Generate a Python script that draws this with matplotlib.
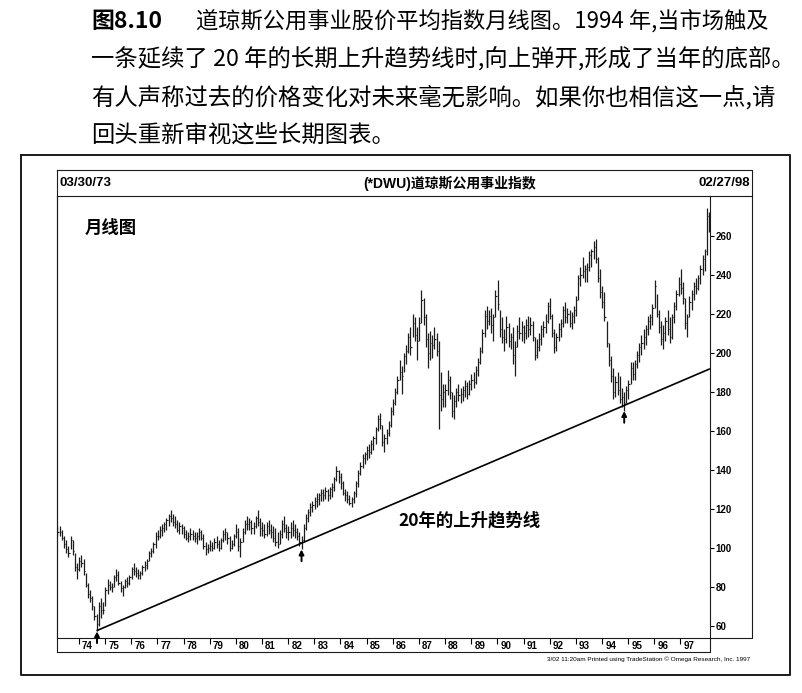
import numpy as np
import pandas as pd
import matplotlib
matplotlib.use("Agg")
import matplotlib.pyplot as plt
from matplotlib.lines import Line2D

plt.rcParams['font.family'] = ['Noto Sans CJK SC', 'DejaVu Sans']

# monthly bars, 03/1973 .. 02/1998
start_month = "1973-03"
highs = [
    111, 111, 109, 106, 104, 101, 106, 104, 97, 92,                 # 73
    95, 96, 94, 87, 82, 78, 75, 70, 66, 72, 74, 72,                  # 74
    80, 84, 83, 82, 86, 89, 88, 83, 81, 84, 85, 86,                  # 75
    90, 92, 90, 89, 88, 91, 93, 94, 98, 100, 103, 108,               # 76
    109, 111, 112, 113, 115, 117, 119, 117, 116, 114, 113, 112,      # 77
    111, 109, 108, 110, 109, 108, 108, 110, 109, 107, 103, 102,      # 78
    104, 103, 105, 106, 104, 105, 109, 110, 108, 106, 104, 107,      # 79
    112, 110, 105, 110, 114, 116, 115, 114, 113, 116, 119, 115,      # 80
    113, 112, 113, 114, 112, 111, 110, 108, 109, 114, 116, 112,      # 81
    111, 113, 114, 112, 110, 108, 106, 112, 117, 120, 123, 124,      # 82
    126, 128, 128, 130, 130, 131, 130, 131, 133, 136, 142, 140,      # 83
    138, 134, 130, 129, 127, 126, 129, 134, 140, 144, 148, 149,      # 84
    152, 153, 155, 157, 162, 168, 169, 163, 158, 161, 165, 172,      # 85
    176, 182, 188, 196, 193, 200, 204, 210, 213, 220, 218, 213,      # 86
    218, 232, 228, 220, 210, 211, 209, 213, 210, 206, 190, 184,      # 87
    184, 191, 188, 180, 178, 182, 184, 182, 183, 186, 185, 186,      # 88
    189, 190, 193, 197, 203, 212, 222, 224, 222, 223, 220, 232,      # 89
    237, 222, 218, 212, 219, 215, 210, 213, 206, 214, 218, 216,      # 90
    214, 217, 219, 218, 216, 208, 207, 210, 214, 216, 220, 226,      # 91
    228, 220, 212, 210, 215, 217, 224, 226, 223, 222, 221, 224,      # 92
    229, 240, 244, 249, 245, 246, 252, 253, 257, 258, 249, 243,      # 93
    234, 231, 216, 205, 198, 192, 188, 190, 188, 182, 180, 183,      # 94
    186, 195, 195, 196, 201, 205, 209, 212, 214, 219, 220, 225,      # 95
    237, 230, 222, 216, 214, 218, 222, 218, 220, 226, 232, 239,      # 96
    243, 236, 228, 220, 229, 232, 236, 238, 240, 245, 250, 253,      # 97
    274, 272,                                                        # 98
]
lows = [
    106, 106, 104, 100, 97, 95, 99, 96, 88, 84,
    88, 90, 86, 80, 74, 72, 68, 63, 57, 60, 64, 66,
    70, 76, 78, 77, 80, 83, 81, 77, 75, 79, 80, 81,
    84, 86, 85, 84, 84, 86, 88, 89, 93, 95, 97, 100,
    104, 105, 106, 108, 109, 111, 113, 111, 110, 108, 107, 107,
    105, 104, 103, 104, 104, 103, 102, 104, 104, 99, 96, 97,
    98, 98, 99, 100, 98, 99, 103, 104, 102, 98, 99, 101,
    105, 98, 95, 103, 107, 109, 109, 107, 107, 110, 111, 106,
    106, 105, 106, 107, 105, 103, 101, 100, 102, 105, 108, 105,
    104, 105, 106, 105, 104, 101, 99, 103, 109, 113, 116, 118,
    120, 121, 122, 124, 124, 125, 124, 125, 126, 129, 134, 133,
    130, 127, 124, 123, 122, 121, 123, 126, 131, 137, 141, 143,
    145, 146, 148, 150, 153, 160, 161, 152, 149, 153, 157, 162,
    168, 173, 179, 186, 179, 190, 194, 200, 199, 208, 206, 196,
    206, 215, 214, 203, 192, 196, 197, 202, 198, 161, 170, 172,
    172, 178, 176, 167, 166, 172, 175, 174, 175, 177, 176, 178,
    181, 182, 184, 188, 194, 200, 208, 212, 214, 210, 206, 218,
    222, 208, 205, 201, 205, 203, 202, 194, 188, 203, 207, 206,
    205, 207, 208, 209, 206, 196, 197, 201, 204, 208, 210, 215,
    217, 208, 200, 201, 206, 208, 213, 215, 215, 213, 212, 215,
    219, 227, 234, 238, 236, 236, 242, 244, 248, 246, 236, 228,
    223, 216, 203, 193, 185, 176, 177, 178, 174, 172, 170, 174,
    176, 184, 186, 186, 192, 195, 199, 202, 204, 209, 212, 214,
    223, 218, 210, 204, 202, 206, 209, 205, 207, 215, 222, 229,
    230, 225, 212, 208, 218, 222, 227, 230, 232, 235, 240, 242,
    250, 262,
]
closes = [
    108, 108, 105, 102, 99, 97, 104, 98, 90, 89,
    93, 92, 88, 81, 76, 74, 70, 65, 61, 70, 68, 68,
    78, 81, 80, 80, 85, 86, 82, 79, 80, 83, 82, 85,
    89, 88, 87, 86, 87, 90, 91, 93, 97, 98, 102, 106,
    106, 109, 110, 112, 114, 116, 115, 113, 112, 109, 111, 110,
    107, 105, 106, 107, 106, 105, 106, 108, 105, 101, 99, 100,
    101, 100, 103, 102, 100, 104, 107, 108, 105, 100, 102, 106,
    108, 101, 103, 108, 112, 112, 113, 110, 111, 115, 113, 110,
    109, 107, 111, 109, 108, 105, 103, 102, 107, 112, 110, 108,
    108, 110, 109, 108, 106, 103, 104, 110, 115, 118, 121, 122,
    124, 125, 127, 128, 127, 129, 127, 130, 131, 135, 139, 136,
    133, 128, 127, 125, 123, 125, 128, 133, 138, 142, 146, 148,
    150, 149, 153, 156, 161, 166, 163, 154, 156, 159, 163, 170,
    174, 180, 186, 190, 188, 198, 201, 208, 203, 215, 209, 206,
    215, 227, 218, 207, 200, 205, 204, 207, 201, 178, 176, 180,
    181, 186, 180, 170, 175, 180, 178, 179, 181, 183, 179, 184,
    186, 185, 191, 195, 201, 210, 219, 216, 219, 214, 218, 229,
    225, 212, 208, 207, 213, 206, 208, 199, 203, 211, 210, 213,
    210, 214, 212, 214, 208, 199, 203, 207, 212, 213, 216, 224,
    219, 210, 203, 208, 212, 215, 222, 218, 220, 215, 219, 222,
    227, 238, 240, 242, 243, 244, 250, 252, 254, 248, 238, 231,
    226, 218, 205, 196, 188, 180, 185, 181, 176, 177, 174, 181,
    184, 192, 189, 194, 199, 203, 205, 208, 212, 216, 218, 223,
    234, 220, 213, 207, 210, 216, 212, 208, 218, 224, 230, 235,
    233, 228, 215, 218, 226, 230, 234, 233, 238, 243, 248, 252,
    270, 266,
]

# trendline through the three lows, and the marked lows
trend_x = [1974.70, 1998.10]
trend_y = [57.5, 191.5]
pivot_x = [1974.69, 1982.51, 1994.85]
pivot_y = [57, 99, 170]

year_ticks = list(range(1974, 1998))
price_ticks = list(range(60, 261, 20))

W, H = 803, 693
fig = plt.figure(figsize=(W / 100, H / 100), dpi=100)


def fx(px):
    return px / W


def fy(py):
    return 1 - py / H


def line_px(xs, ys, lw=0.8):
    fig.add_artist(Line2D([fx(v) for v in xs], [fy(v) for v in ys],
                          color="#1a1a1a", lw=lw, transform=fig.transFigure))


# caption above the chart
cap = dict(color="black", va="center", ha="left")
fig.text(fx(91), fy(21), "图8.10", fontsize=16.5, fontweight="bold", **cap)
fig.text(fx(196), fy(21), "道琼斯公用事业股价平均指数月线图。1994 年,当市场触及",
         fontsize=16, **cap)
fig.text(fx(91), fy(59), "一条延续了 20 年的长期上升趋势线时,向上弹开,形成了当年的底部。",
         fontsize=16.8, **cap)
fig.text(fx(91), fy(97), "有人声称过去的价格变化对未来毫无影响。如果你也相信这一点,请",
         fontsize=16.8, **cap)
fig.text(fx(91), fy(135), "回头重新审视这些长期图表。", fontsize=16.8, **cap)

# frames
line_px([21, 790, 790, 21, 21], [155, 155, 675, 675, 155], lw=1.4)
line_px([57, 752, 752, 710], [170, 170, 638, 638])
line_px([57, 57], [170, 652])
line_px([710, 752], [196, 196])
line_px([57, 710, 710], [652, 652, 638])

ax = fig.add_axes([fx(57), fy(638), (710 - 57) / W, (638 - 196) / H])
for s in ax.spines.values():
    s.set_linewidth(0.8)
    s.set_color("#1a1a1a")

dates = pd.date_range(start_month, periods=len(highs), freq="MS")
xs = dates.year + (dates.month - 1) / 12 + 0.01
ax.vlines(xs, lows, highs, color="#1c1c1c", lw=0.9)
ax.hlines(closes, xs, xs + 0.045, color="#1c1c1c", lw=0.8)

ax.plot(trend_x, trend_y, color="black", lw=1.2)
for px_, py_ in zip(pivot_x, pivot_y):
    ax.annotate("", xy=(px_, py_), xytext=(px_, py_ - 6),
                arrowprops=dict(arrowstyle="-|>", color="black", lw=1.4,
                                mutation_scale=7, shrinkA=0, shrinkB=0))

ax.set_xlim(1973.16, 1998.13)
ax.set_ylim(53.6, 280.3)

ax.yaxis.tick_right()
ax.set_yticks(price_ticks)
ax.set_yticklabels([str(v) for v in price_ticks], fontsize=7, fontweight="bold",
                   family="Liberation Sans")
ax.tick_params(axis="y", direction="out", length=3, width=0.8, pad=1)

ax.set_xticks(year_ticks)
ax.set_xticklabels([])
ax.tick_params(axis="x", direction="out", length=4, width=0.8)
for yr in year_ticks:
    ax.text(yr + 0.12, -0.017, str(yr)[2:], transform=ax.get_xaxis_transform(),
            fontsize=7, fontweight="bold", family="Liberation Sans",
            ha="left", va="center")

# header row
hdr = dict(va="center", fontweight="bold")
fig.text(fx(60), fy(183), "03/30/73", fontsize=9.5, family="Liberation Sans", ha="left", **hdr)
fig.text(fx(450), fy(183), "(*DWU)道琼斯公用事业指数", fontsize=10,
         family=["Liberation Sans", "Noto Sans CJK SC"], ha="center", **hdr)
fig.text(fx(750), fy(183), "02/27/98", fontsize=9.5, family="Liberation Sans", ha="right", **hdr)

ax.text(1974.2, 264, "月线图", fontsize=12.5, fontweight="bold", ha="left", va="center")
ax.text(1986.2, 114, "20年的上升趋势线", fontsize=12.5, fontweight="bold",
        ha="left", va="center")

fig.text(fx(750), fy(659), "3/02 11:20am Printed using TradeStation © Omega Research, Inc. 1997",
         fontsize=4.6, family="Liberation Sans", ha="right", va="center")

fig.savefig("out.png", dpi=100)
